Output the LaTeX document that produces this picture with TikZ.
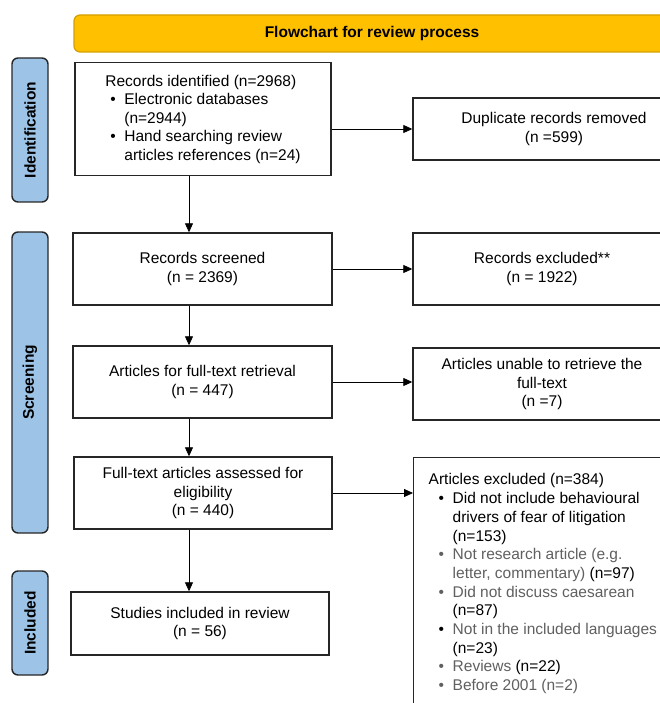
\documentclass[tikz,border=0pt]{standalone}
\usepackage{fontspec}
\setmainfont{Liberation Sans}
\usetikzlibrary{arrows.meta}

\definecolor{barGold}{HTML}{FFC000}
\definecolor{barEdge}{HTML}{D4A000}
\definecolor{stageBlue}{HTML}{9DC3E6}
\definecolor{greyText}{HTML}{606060}

% bullet with indent and box width
\newcommand{\bul}[2]{\hspace*{#1}\makebox[#2][l]{\textbullet}}

\tikzset{
  txt/.style={font=\fontsize{15.5}{18.5}\selectfont},
  box/.style={txt, draw=black!85, line width=1.4pt, fill=white, align=center, inner sep=0pt},
  stage/.style={draw=black!85, line width=1.4pt, fill=stageBlue, rounded corners=6pt, rotate=90,
    minimum height=36pt, font=\fontsize{15.5}{18.5}\selectfont\bfseries},
  arr/.style={line width=0.8pt, -{Triangle[length=9pt,width=8pt]}},
}

\begin{document}
\begin{tikzpicture}[x=1pt, y=-1pt]
  \useasboundingbox (0,0) rectangle (660,703);
  \clip (0,0) rectangle (660,703);

  % Title bar
  \node[draw=barEdge, fill=barGold, line width=1.2pt, rounded corners=6pt, minimum width=596pt,
    minimum height=37pt, font=\fontsize{15.5}{18.5}\selectfont\bfseries] (title) at (372,33.5)
    {Flowchart for review process};

  % Stages
  \node[stage, minimum width=144pt] (idlab) at (30,130) {Identification};
  \node[stage, minimum width=301pt] (scrlab) at (30,382.5) {Screening};
  \node[stage, minimum width=104pt] (inclab) at (30,623) {Included};

  % Main column
  \node[box, minimum width=256pt, minimum height=113pt, align=left] (ident) at (203,119)
    {Records identified (n=2968)\\
     \bul{5pt}{14pt}Electronic databases\\
     \hspace*{19pt}(n=2944)\\
     \bul{5pt}{14pt}Hand searching review\\
     \hspace*{19pt}articles references (n=24)};
  \node[box, minimum width=259pt, minimum height=72pt] (scr) at (202.5,269) {Records screened\\(n = 2369)};
  \node[box, minimum width=259pt, minimum height=72pt] (ret) at (202.5,382) {Articles for full-text retrieval\\(n = 447)};
  \node[box, minimum width=258pt, minimum height=72pt] (elig) at (203,493) {Full-text articles assessed for\\eligibility\\(n = 440)};
  \node[box, minimum width=258pt, minimum height=63pt] (incl) at (200,623.5) {Studies included in review\\(n = 56)};

  % Side column
  \node[box, minimum width=282pt, minimum height=62pt] (dup) at (554,129) {Duplicate records removed\\(n =599)};
  \node[box, minimum width=258pt, minimum height=72pt] (rex) at (542,269) {Records excluded**\\(n = 1922)};
  \node[box, minimum width=258pt, minimum height=72pt] (unab) at (542,384) {Articles unable to retrieve the\\full-text\\(n =7)};
  \node[box, anchor=north west, inner xsep=15pt, inner ysep=16pt] (excl) at (413,457)
    {\parbox[t][260pt][t]{240pt}{\fontsize{15.5}{18.7}\selectfont
     Articles excluded (n=384)\\
     \bul{10pt}{14pt}Did not include behavioural\\
     \hspace*{24pt}drivers of fear of litigation\\
     \hspace*{24pt}(n=153)\\
     {\color{greyText}\bul{10pt}{14pt}Not research article (e.g.}\\
     \hspace*{24pt}{\color{greyText}letter, commentary)} (n=97)\\
     {\color{greyText}\bul{10pt}{14pt}Did not discuss caesarean}\\
     \hspace*{24pt}(n=87)\\
     \bul{10pt}{14pt}{\color{greyText}Not in the included languages}\\
     \hspace*{24pt}(n=23)\\
     {\color{greyText}\bul{10pt}{14pt}Reviews} (n=22)\\
     {\color{greyText}\bul{10pt}{14pt}Before 2001 (n=2)}}};

  % Arrows
  \coordinate (spine) at (189,0);
  \draw[arr] (ident.south -| spine) -- (scr.north -| spine);
  \draw[arr] (scr.south -| spine) -- (ret.north -| spine);
  \draw[arr] (ret.south -| spine) -- (elig.north -| spine);
  \draw[arr] (elig.south -| spine) -- (incl.north -| spine);

  \draw[arr] (ident.east |- dup.west) -- (dup.west);
  \draw[arr] (scr.east) -- (rex.west);
  \draw[arr] (ret.east) -- (ret.east -| unab.west);
  \draw[arr] (elig.east) -- (elig.east -| excl.west);
\end{tikzpicture}
\end{document}
